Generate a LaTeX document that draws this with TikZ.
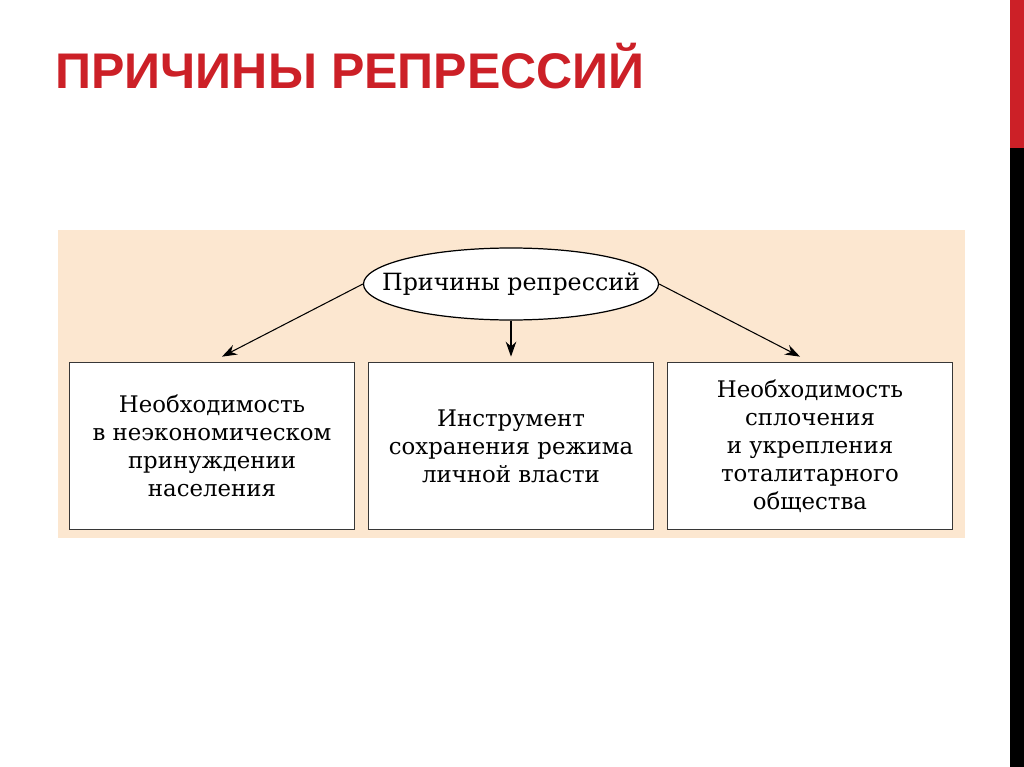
\documentclass[tikz,border=0pt]{standalone}
\usepackage{fontspec}
\setmainfont{DejaVu Serif}
\newfontfamily\titlefont{Liberation Sans}
\usetikzlibrary{positioning,shapes.geometric,arrows.meta}

\definecolor{slidered}{RGB}{204,32,39}
\definecolor{panelbeige}{RGB}{252,231,208}
\definecolor{boxline}{RGB}{55,55,55}

\begin{document}
\begin{tikzpicture}[x=0.02cm,y=-0.02cm,
    reason/.style={draw=boxline, line width=1pt, fill=white, minimum width=5.7cm, minimum height=3.34cm, inner sep=0pt, align=center, font=\fontsize{13}{16}\selectfont},
    cause/.style={draw, ellipse, fill=white, line width=0.7pt, minimum width=5.84cm, minimum height=1.44cm, inner xsep=-14pt, inner ysep=0pt, font=\fontsize{13.5}{16}\selectfont},
    arr/.style={-{Stealth[length=8.5pt,width=6pt]}, line width=0.6pt}]
    \useasboundingbox (0,0) rectangle (1024,767);
    \fill[white] (0,0) rectangle (1024,767);
    % side bar
    \fill[slidered] (1010,0) rectangle (1024,148);
    \fill[black] (1010,148) rectangle (1024,767);
    
    \node[anchor=base west, inner sep=0pt, text=slidered, font=\titlefont\bfseries\fontsize{28.5}{32}\selectfont] (title) at (55,89) {ПРИЧИНЫ РЕПРЕССИЙ};
    
    \fill[panelbeige] (58,230) rectangle (965,538);
    
    \node[cause] (root) at (511,284) {Причины репрессий};
    
    \node[reason] (r1) at (212,446) {Необходимость\\в неэкономическом\\принуждении\\населения};
    \node[reason] (r2) at (511,446) {Инструмент\\сохранения режима\\личной власти};
    \node[reason] (r3) at (810,446) {Необходимость\\сплочения\\и укрепления\\тоталитарного\\общества};
    
    \draw[arr] (root.west) -- ([xshift=0.2cm,yshift=0.1cm]r1.north);
    \draw[arr] (root.south) -- ([yshift=0.1cm]r2.north);
    \draw[arr] (root.east) -- ([xshift=-0.2cm,yshift=0.1cm]r3.north);
\end{tikzpicture}
\end{document}
